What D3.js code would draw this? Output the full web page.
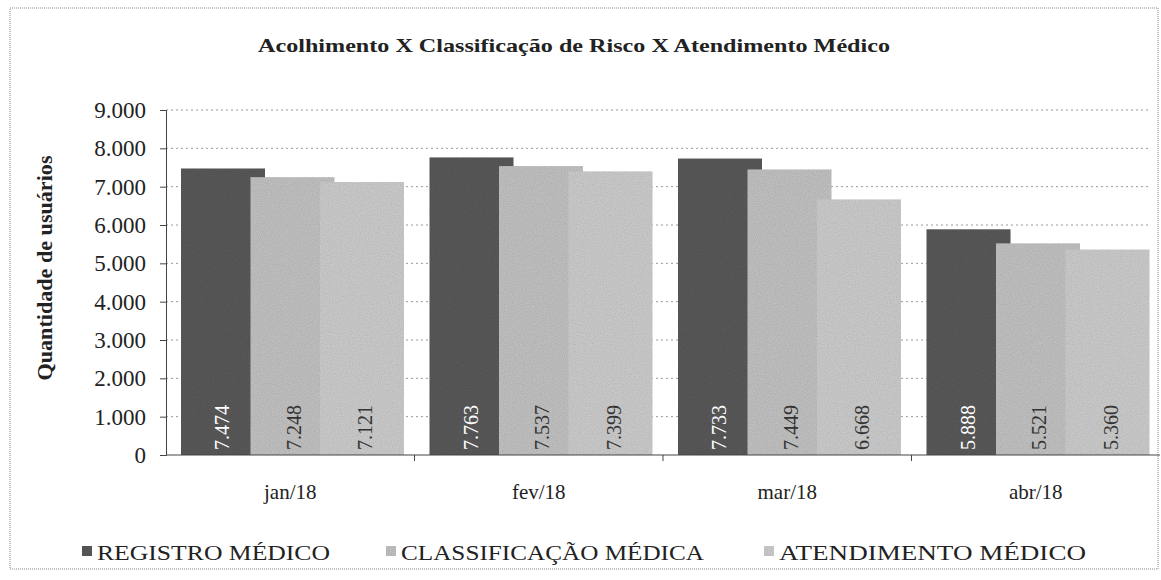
<!DOCTYPE html>
<html>
<head>
<meta charset="utf-8">
<script src="https://cdn.jsdelivr.net/npm/d3@7"></script>
<style>
  body { margin: 0; background: #fff; }
</style>
</head>
<body>
<div id="chart"></div>
<script>
var months = ["jan/18", "fev/18", "mar/18", "abr/18"];
var series = ["REGISTRO MÉDICO", "CLASSIFICAÇÃO MÉDICA", "ATENDIMENTO MÉDICO"];
var registro = [7474, 7763, 7733, 5888];
var classificacao = [7248, 7537, 7449, 5521];
var atendimento = [7121, 7399, 6668, 5360];
var yTicks = [0, 1000, 2000, 3000, 4000, 5000, 6000, 7000, 8000, 9000];

var svgWidth = 1161, svgHeight = 580;
var serif = "'Times New Roman', 'Liberation Serif', serif";
var colors = ["#565656", "#bdbdbd", "#c7c7c7"];
var labelColors = ["#fff", "#333", "#333"];

var svg = d3.select("#chart").append("svg")
  .attr("width", svgWidth)
  .attr("height", svgHeight)
  .attr("font-family", serif);

// grainy scan look for the bars
var filt = svg.append("defs").append("filter")
  .attr("id", "grain")
  .attr("x", 0).attr("y", 0).attr("width", 1).attr("height", 1);
filt.append("feTurbulence")
  .attr("type", "fractalNoise")
  .attr("baseFrequency", 0.9)
  .attr("numOctaves", 1)
  .attr("seed", 3)
  .attr("result", "noise");
filt.append("feColorMatrix")
  .attr("in", "noise")
  .attr("type", "matrix")
  .attr("values", "0 0 0 0 0  0 0 0 0 0  0 0 0 0 0  0 0 0 -1.2 0.75")
  .attr("result", "dots");
filt.append("feComposite")
  .attr("in", "dots").attr("in2", "SourceGraphic")
  .attr("operator", "in")
  .attr("result", "dots2");
filt.append("feComponentTransfer")
  .attr("in", "dots2")
  .attr("result", "dots3")
  .append("feFuncA").attr("type", "linear").attr("slope", 0.35);
filt.append("feMerge")
  .call(m => { m.append("feMergeNode").attr("in", "SourceGraphic"); m.append("feMergeNode").attr("in", "dots3"); });

// dotted outer frame
svg.append("rect")
  .attr("x", 10).attr("y", 8)
  .attr("width", 1148).attr("height", 561)
  .attr("fill", "none")
  .attr("stroke", "#888")
  .attr("stroke-dasharray", "1,1");

// scales
var x0 = d3.scaleBand().domain(months).range([166, 1160]);
var x1 = d3.scalePoint().domain(series).range([15, 154]);
var barW = 84;
var y = d3.scaleLinear().domain([0, 9000]).range([455, 110]);
var fmt = d => d3.format(",")(d).replace(",", ".");

// gridlines
svg.append("g").selectAll("line")
  .data(yTicks.slice(1))
  .enter().append("line")
  .attr("x1", 166).attr("x2", 1150)
  .attr("y1", d => y(d)).attr("y2", d => y(d))
  .attr("stroke", "#999")
  .attr("stroke-dasharray", "2,3");

// bars
var rows = months.map(function(m, i) {
  return { month: m, values: [registro[i], classificacao[i], atendimento[i]] };
});

var groups = svg.selectAll(".grp")
  .data(rows)
  .enter().append("g")
  .attr("class", "grp")
  .attr("transform", d => `translate(${x0(d.month)},0)`);

groups.selectAll("rect")
  .data(d => d.values.map((v, k) => ({ s: series[k], k: k, v: v })))
  .enter().append("rect")
  .attr("x", d => x1(d.s))
  .attr("y", d => y(d.v))
  .attr("width", barW)
  .attr("height", d => y(0) - y(d.v))
  .attr("fill", d => colors[d.k])
  .attr("filter", "url(#grain)");

groups.selectAll(".lbl")
  .data(d => d.values.map((v, k) => ({ s: series[k], k: k, v: v })))
  .enter().append("text")
  .attr("class", "lbl")
  .attr("transform", d => `translate(${x1(d.s) + 41 + d.k * 2},450) rotate(-90)`)
  .attr("dy", "0.35em")
  .attr("font-size", 20)
  .attr("fill", d => labelColors[d.k])
  .text(d => fmt(d.v));

// y axis
var leftAxis = d3.axisLeft(y)
  .tickValues(yTicks)
  .tickSize(6)
  .tickFormat(fmt);

var yAxis = svg.append("g")
  .attr("transform", "translate(166,0)")
  .call(leftAxis);
yAxis.select(".domain").attr("stroke", "#444");
yAxis.selectAll(".tick line").attr("stroke", "#444");
yAxis.selectAll(".tick text")
  .attr("x", -20)
  .attr("font-size", 23)
  .attr("font-family", serif)
  .attr("fill", "#222");

// x axis
svg.append("line")
  .attr("x1", 166).attr("x2", 1160)
  .attr("y1", y(0)).attr("y2", y(0))
  .attr("stroke", "#444");
svg.append("g").selectAll("line")
  .data(months.slice(1))
  .enter().append("line")
  .attr("x1", d => x0(d)).attr("x2", d => x0(d))
  .attr("y1", y(0)).attr("y2", y(0) + 6)
  .attr("stroke", "#444");

svg.append("g").selectAll("text")
  .data(months)
  .enter().append("text")
  .attr("x", d => x0(d) + x0.bandwidth() / 2)
  .attr("y", 499)
  .attr("text-anchor", "middle")
  .attr("font-size", 21)
  .attr("fill", "#222")
  .text(d => d);

// title
svg.append("text")
  .attr("x", 574)
  .attr("y", 52)
  .attr("text-anchor", "middle")
  .attr("font-size", 19)
  .attr("font-weight", "bold")
  .attr("fill", "#222")
  .attr("textLength", 632)
  .attr("lengthAdjust", "spacingAndGlyphs")
  .text("Acolhimento  X  Classificação  de  Risco X  Atendimento  Médico");

// y axis title
svg.append("text")
  .attr("transform", "translate(52,268) rotate(-90)")
  .attr("text-anchor", "middle")
  .attr("font-size", 21)
  .attr("font-weight", "bold")
  .attr("fill", "#222")
  .attr("textLength", 225)
  .attr("lengthAdjust", "spacingAndGlyphs")
  .text("Quantidade  de  usuários");

// legend
var legendX = [82, 386, 764];
var legendW = [233, 303, 307];
var legend = svg.selectAll(".leg")
  .data(series)
  .enter().append("g")
  .attr("class", "leg")
  .attr("transform", (d, i) => `translate(${legendX[i]},552)`);
legend.append("rect")
  .attr("x", 0).attr("y", -6)
  .attr("width", 10).attr("height", 10)
  .attr("fill", (d, i) => colors[i])
  .attr("filter", "url(#grain)");
legend.append("text")
  .attr("x", 15)
  .attr("y", 0)
  .attr("dy", "0.35em")
  .attr("font-size", 22)
  .attr("fill", "#222")
  .attr("textLength", (d, i) => legendW[i])
  .attr("lengthAdjust", "spacingAndGlyphs")
  .text(d => d);
</script>
</body>
</html>
